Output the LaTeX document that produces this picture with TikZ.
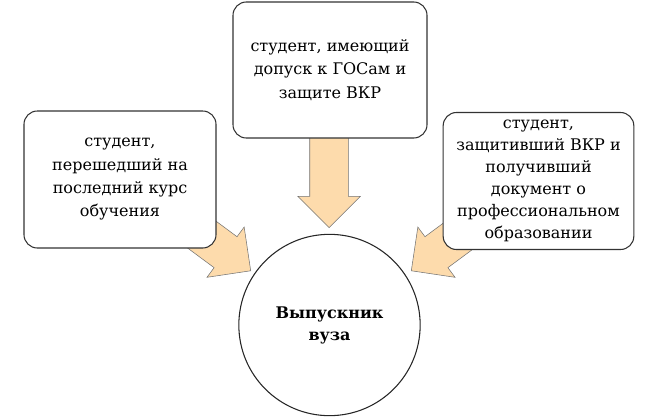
\documentclass[tikz,border=0pt]{standalone}
\usepackage{fontspec}
\setmainfont{DejaVu Serif}
\usetikzlibrary{shapes.arrows}
\definecolor{peach}{RGB}{253,219,172}

\begin{document}
\begin{tikzpicture}[x=0.75pt, y=-0.75pt]
        \tikzstyle{box} = [draw=black!80, fill=white, rounded corners=10pt, line width=0.8pt, align=center, font=\fontsize{12}{17.5}\selectfont]
        \tikzstyle{bigarrow} = [single arrow, draw=black!55, fill=peach, anchor=tip, inner xsep=0pt, inner ysep=14.25pt, single arrow head extend=9pt]
        \tikzstyle{goal} = [draw=black!85, fill=white, circle, minimum size=136pt, line width=0.8pt, align=center, font=\bfseries\fontsize{12}{16.5}\selectfont]
        \useasboundingbox (0,0) rectangle (660,418);
        \node[bigarrow, minimum height=72pt, rotate=-36.5] (arrow1) at (251,271) {};
        \node[bigarrow, minimum height=77pt, rotate=-90] (arrow2) at (329,228) {};
        \node[bigarrow, minimum height=72pt, rotate=-143.5] (arrow3) at (411,271) {};
        \node[box, minimum width=144pt, minimum height=102.75pt] (box1) at (120,179.5) {студент,\\перешедший на\\последний курс\\обучения};
        \node[box, minimum width=145.5pt, minimum height=102pt] (box2) at (330,70) {студент, имеющий\\допуск к ГОСам и\\защите ВКР};
        \node[box, minimum width=143pt, minimum height=102.75pt, font=\fontsize{12}{16.5}\selectfont] (box3) at (538.5,181) {студент,\\защитивший ВКР и\\получивший\\документ о\\профессиональном\\образовании};
        \node[goal] (grad) at (329.5,325) {Выпускник\\вуза};
    \end{tikzpicture}
\end{document}
